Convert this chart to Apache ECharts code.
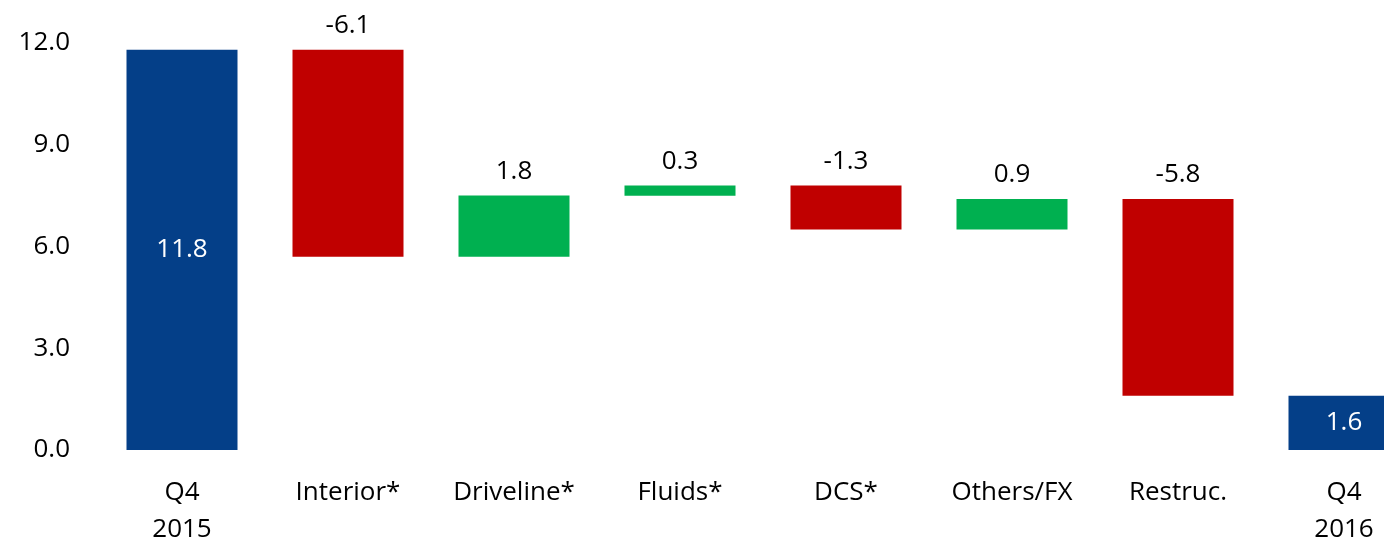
<!DOCTYPE html>
<html>
<head>
<meta charset="utf-8">
<script src="https://cdn.jsdelivr.net/npm/echarts@6/dist/echarts.min.js"></script>
<style>
  html, body { margin: 0; padding: 0; background: #fff; }
  #main { width: 1384px; height: 546px; }
</style>
</head>
<body>
<div id="main"></div>
<script>
// chart values
var categories = ['Q4\n2015', 'Interior*', 'Driveline*', 'Fluids*', 'DCS*', 'Others/FX', 'Restruc.', 'Q4\n2016'];
var startTotal = 11.8;
var changes = [-6.1, 1.8, 0.3, -1.3, 0.9, -5.8];   // Interior* .. Restruc.
var endTotal = 1.6;
var yTicks = [0, 3, 6, 9, 12];

var BLUE = '#043f88', RED = '#c00000', GREEN = '#00b050';
var FONT = '"Open Sans", Lato, sans-serif';

// waterfall pieces: invisible base + visible step
var baseData = ['-'];
var stepData = ['-'];
var running = startTotal;
changes.forEach(function (c) {
    var next = running + c;
    baseData.push(+Math.min(running, next).toFixed(2));
    stepData.push({
        value: +Math.abs(c).toFixed(2),
        itemStyle: { color: c < 0 ? RED : GREEN }
    });
    running = next;
});
baseData.push('-');
stepData.push('-');

var totalData = [startTotal].concat(changes.map(function () { return '-'; }), [endTotal]);

var chart = echarts.init(document.getElementById('main'));
chart.setOption({
    animation: false,
    backgroundColor: '#fff',
    textStyle: { fontFamily: FONT },
    grid: { left: 99, width: 1328, top: 43, bottom: 96, outerBoundsMode: 'none', containLabel: false },
    xAxis: {
        type: 'category',
        data: categories,
        axisLine: { show: false },
        axisTick: { show: false },
        axisLabel: { color: '#000', fontSize: 26, lineHeight: 37, margin: 24, interval: 0, fontFamily: FONT }
    },
    yAxis: {
        type: 'value',
        min: yTicks[0],
        max: yTicks[yTicks.length - 1],
        interval: 3,
        axisLine: { show: false },
        axisTick: { show: false },
        splitLine: { show: false },
        axisLabel: {
            color: '#000', fontSize: 26, margin: 29, fontFamily: FONT,
            formatter: function (v) { return v.toFixed(1); }
        }
    },
    series: [
        {
            name: 'base', type: 'bar', stack: 'wf', barWidth: 111,
            itemStyle: { color: 'transparent' },
            data: baseData
        },
        {
            name: 'step', type: 'bar', stack: 'wf', barWidth: 111,
            data: stepData,
            label: {
                show: true, position: 'top', distance: 11,
                color: '#000', fontSize: 26, fontFamily: FONT,
                formatter: function (p) { return changes[p.dataIndex - 1].toFixed(1); }
            }
        },
        {
            name: 'total', type: 'bar', stack: 'wf', barWidth: 111,
            itemStyle: { color: BLUE },
            data: totalData,
            label: {
                show: true, position: 'inside',
                color: '#fff', fontSize: 26, fontFamily: FONT,
                formatter: function (p) { return p.value.toFixed(1); }
            }
        }
    ]
});
</script>
</body>
</html>
